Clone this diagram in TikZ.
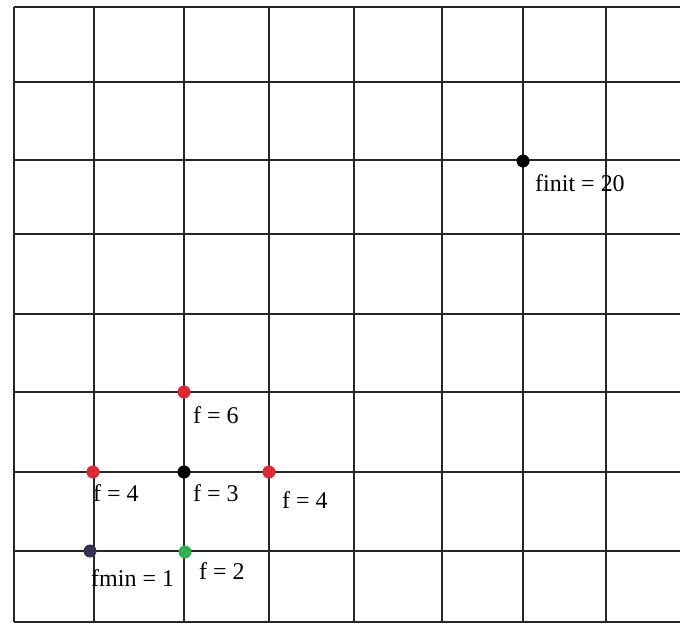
\documentclass[tikz,border=0pt]{standalone}
\usepackage{fontspec}
\setmainfont{Liberation Serif}
\definecolor{dotred}{RGB}{222,40,52}
\definecolor{dotgreen}{RGB}{46,178,80}
\definecolor{dotnavy}{RGB}{52,52,82}

\begin{document}
\begin{tikzpicture}[x=1pt,y=-1pt,
    gridline/.style={line width=1.8pt, color=black!85},
    spot/.style={circle, inner sep=0pt, minimum size=13pt, fill=#1},
    flabel/.style={anchor=west, inner sep=0pt, font=\fontsize{24}{27}\selectfont}]
    \useasboundingbox (0,0) rectangle (680,623);
    \fill[white] (0,0) rectangle (680,623);
    % grid
    \foreach \x in {14,94,184,269,354,442,523,606}
        \draw[gridline] (\x,7) -- (\x,622);
    \foreach \y in {7,82,160,234,314,392,472,551,622}
        \draw[gridline] (14,\y) -- (680,\y);
    % points
    \node[spot=black] (Init) at (523,161) {};
    \node[spot=dotred] (Up) at (184,392) {};
    \node[spot=dotred] (Left) at (93,472) {};
    \node[spot=black] (Cur) at (184,472) {};
    \node[spot=dotred] (Right) at (269,472) {};
    \node[spot=dotnavy] (Min) at (90,551) {};
    \node[spot=dotgreen] (Down) at (185,552) {};
    % values
    \node[flabel] (InitVal) at (535,183) {finit = 20};
    \node[flabel] (UpVal) at (193,415) {f = 6};
    \node[flabel] (LeftVal) at (93,493) {f = 4};
    \node[flabel] (CurVal) at (193,493) {f = 3};
    \node[flabel] (RightVal) at (282,500) {f = 4};
    \node[flabel] (MinVal) at (91,578) {fmin = 1};
    \node[flabel] (DownVal) at (199,571) {f = 2};
\end{tikzpicture}
\end{document}
